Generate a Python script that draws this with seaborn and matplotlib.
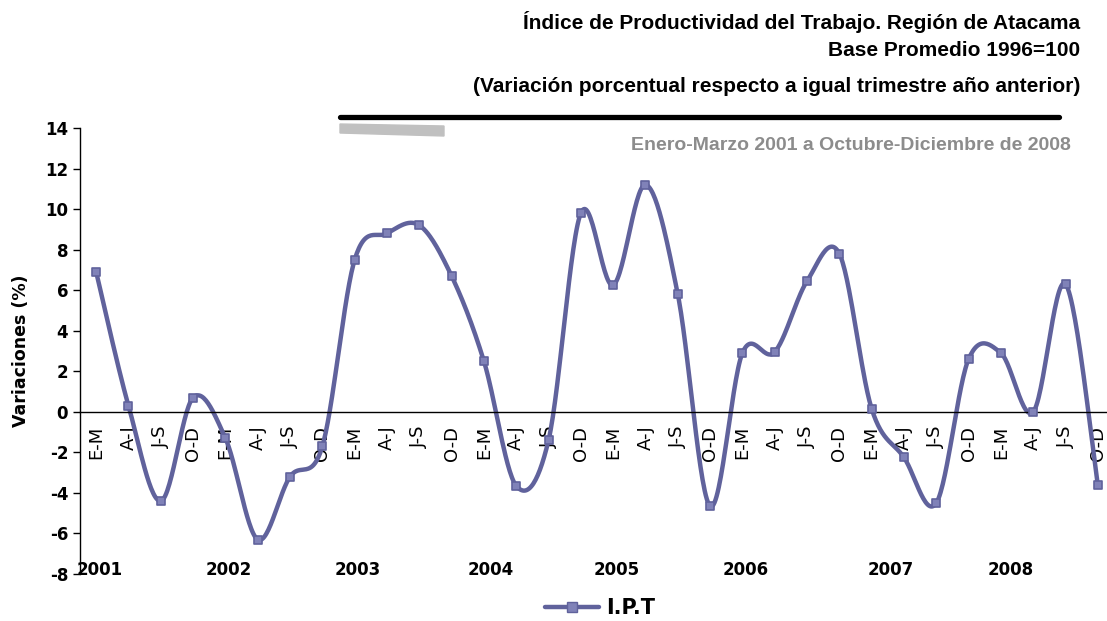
import pandas as pd
import numpy as np
import seaborn as sns
import matplotlib.pyplot as plt
from matplotlib.lines import Line2D
from matplotlib.patches import Polygon


quarters = ["E-M", "A-J", "J-S", "O-D"] * 8
years = ["2001", "2002", "2003", "2004", "2005", "2006", "2007", "2008"]
year_pos = [0.1, 4.1, 8.1, 12.2, 16.1, 20.1, 24.6, 28.3]
ipt = [6.9, 0.3, -4.4, 0.7,
       -1.3, -6.3, -3.2, -1.7,
       7.5, 8.8, 9.2, 6.7,
       2.5, -3.65, -1.4, 9.8,
       6.25, 11.2, 5.8, -4.65,
       2.9, 2.95, 6.45, 7.8,
       0.15, -2.25, -4.5, 2.6,
       2.9, 0.0, 6.3, -3.6]

data = pd.DataFrame({"idx": np.arange(len(ipt)), "ipt": ipt})


def smooth_curve(x, y, steps=30):
    # excel-like smoothing: bezier segments with catmull-rom control points
    x = np.asarray(x, float)
    y = np.asarray(y, float)
    px = np.concatenate([[x[0]], x, [x[-1]]])
    py = np.concatenate([[y[0]], y, [y[-1]]])
    t = np.linspace(0, 1, steps, endpoint=False)
    xs, ys = [], []
    for i in range(1, len(px) - 2):
        p0x, p1x, p2x, p3x = px[i - 1], px[i], px[i + 1], px[i + 2]
        p0y, p1y, p2y, p3y = py[i - 1], py[i], py[i + 1], py[i + 2]
        c1x, c1y = p1x + (p2x - p0x) / 6, p1y + (p2y - p0y) / 6
        c2x, c2y = p2x - (p3x - p1x) / 6, p2y - (p3y - p1y) / 6
        b0 = (1 - t) ** 3
        b1 = 3 * (1 - t) ** 2 * t
        b2 = 3 * (1 - t) * t ** 2
        b3 = t ** 3
        xs.append(b0 * p1x + b1 * c1x + b2 * c2x + b3 * p2x)
        ys.append(b0 * p1y + b1 * c1y + b2 * c2y + b3 * p2y)
    xs.append([x[-1]])
    ys.append([y[-1]])
    return pd.DataFrame({"idx": np.concatenate(xs), "ipt": np.concatenate(ys)})


curve = smooth_curve(data["idx"], data["ipt"])

sns.set_style("white")
plt.rcParams["font.family"] = ["DejaVu Sans"]
plt.rcParams["axes.unicode_minus"] = False
for key in ["text.color", "axes.labelcolor", "xtick.color", "ytick.color"]:
    plt.rcParams[key] = "black"
narrow = ["Liberation Sans Narrow", "Liberation Sans", "DejaVu Sans"]

line_color = "#60629C"
marker_face = "#8082B8"

fig = plt.figure(figsize=(11.07, 6.21), dpi=100)
ax = fig.add_axes([80 / 1107, 47 / 621, 1034 / 1107, 446 / 621])

sns.lineplot(data=curve, x="idx", y="ipt", sort=False, color=line_color,
             linewidth=3.2, ax=ax, legend=False)
sns.scatterplot(data=data, x="idx", y="ipt", marker="s", s=36, color=marker_face,
                edgecolor=line_color, linewidth=1.2, ax=ax, zorder=3, legend=False)

ax.set_xlim(-0.5, len(ipt) - 0.5)
ax.set_ylim(-8, 14)
ax.set_yticks(np.arange(-8, 15, 2))
ax.set_xticks(np.arange(len(ipt)))
ax.set_xticklabels(quarters)
ax.set_xticks(np.arange(len(ipt)) + 0.5, minor=True)
ax.tick_params(axis="x", which="major", length=0, pad=10, labelrotation=90,
               labelsize=13, labelcolor="black")
ax.tick_params(axis="x", which="minor", direction="out", length=6, width=1, color="black")
ax.tick_params(axis="y", direction="out", length=5, width=1, color="black", left=True,
               labelsize=12, labelcolor="black")
for lab in ax.get_yticklabels():
    lab.set_fontweight("bold")

ax.spines["bottom"].set_position(("data", 0))
ax.spines["top"].set_visible(False)
ax.spines["right"].set_visible(False)
for s in ["bottom", "left"]:
    ax.spines[s].set_color("black")
    ax.spines[s].set_linewidth(1)

ax.set_xlabel("")
ax.set_ylabel("Variaciones (%)", fontsize=12.5, fontweight="bold", labelpad=11)

for yr, pos in zip(years, year_pos):
    ax.text(pos, -7.8, yr, ha="center", va="center", fontsize=12, fontweight="bold")

# title block
fig.text(1080 / 1107, 1 - 22 / 621, "Índice de Productividad del Trabajo. Región de Atacama",
         ha="right", va="center", fontsize=15, fontweight="bold", family=narrow)
fig.text(1080 / 1107, 1 - 51 / 621, "Base Promedio 1996=100",
         ha="right", va="center", fontsize=15, fontweight="bold", family=narrow)
fig.text(1080 / 1107, 1 - 86 / 621, "(Variación porcentual respecto a igual trimestre año anterior)",
         ha="right", va="center", fontsize=15, fontweight="bold", family=narrow)
fig.text(1071 / 1107, 1 - 146 / 621, "Enero-Marzo 2001 a Octubre-Diciembre de 2008",
         ha="right", va="center", fontsize=14, fontweight="bold", color="#8C8C8C", family=narrow)

fig.add_artist(Line2D([340 / 1107, 1059 / 1107], [1 - 117 / 621, 1 - 117 / 621],
                      color="black", linewidth=3.8, transform=fig.transFigure))
fig.add_artist(Polygon([[340 / 1107, 1 - 124 / 621], [444 / 1107, 1 - 126 / 621],
                        [444 / 1107, 1 - 136 / 621], [340 / 1107, 1 - 133 / 621]],
                       closed=True, color="#C0C0C0", transform=fig.transFigure))

handle = Line2D([], [], color=line_color, linewidth=3.2, marker="s", markersize=6.5,
                markerfacecolor=marker_face, markeredgecolor=line_color)
fig.legend([handle], ["I.P.T"], loc="center", bbox_to_anchor=(600 / 1107, 1 - 608 / 621),
           frameon=False, prop={"weight": "bold", "size": 15}, handlelength=2.6,
           handletextpad=0.3)

plt.savefig("out.png", dpi=100)
